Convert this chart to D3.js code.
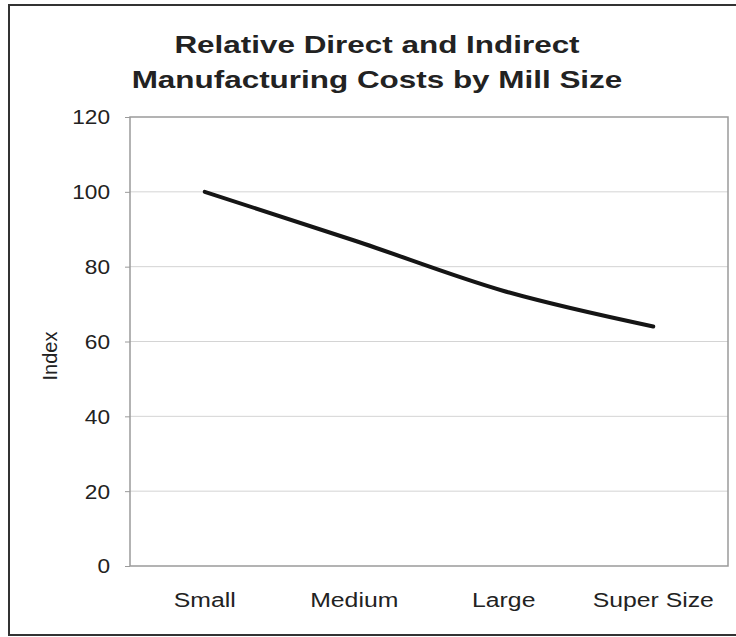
<!DOCTYPE html>
<html>
<head>
<meta charset="utf-8">
<script src="https://cdn.jsdelivr.net/npm/d3@7"></script>
<style>
  html, body { margin: 0; padding: 0; background: #fff; }
  svg { display: block; font-family: "Liberation Sans", Arial, Helvetica, sans-serif; }
</style>
</head>
<body>
<svg id="chart" width="736" height="637"></svg>
<script>
// Chart data
const titleLines = ["Relative Direct and Indirect", "Manufacturing Costs by Mill Size"];
const categories = ["Small", "Medium", "Large", "Super Size"];
const indexValues = [100, 87, 73.5, 64];
const yTicks = [0, 20, 40, 60, 80, 100, 120];
const yLabel = "Index";

const svg = d3.select("#chart");
const W = 736, H = 637;
const margin = { left: 130, right: 8, top: 117, bottom: 71 };
const plotW = W - margin.left - margin.right;
const plotH = H - margin.top - margin.bottom;
const textColor = "#222";

// Outer frame
svg.append("rect")
  .attr("x", 9).attr("y", 5)
  .attr("width", 740).attr("height", 630)
  .attr("fill", "none").attr("stroke", "#333").attr("stroke-width", 2);

// Title (wide-set bold face)
svg.append("g").selectAll("text").data(titleLines).join("text")
  .attr("transform", (d, i) => `translate(377,${53 + i * 35}) scale(1.31,1)`)
  .attr("text-anchor", "middle")
  .attr("font-size", 24).attr("font-weight", "bold").attr("fill", textColor)
  .text(d => d);

const x = d3.scaleBand().domain(categories).range([0, plotW]);
const y = d3.scaleLinear().domain([0, 120]).range([plotH, 0]);

const g = svg.append("g").attr("transform", `translate(${margin.left},${margin.top})`);

// Horizontal gridlines
g.append("g").selectAll("line").data(yTicks.filter(t => t > 0 && t < 120)).join("line")
  .attr("x1", 0).attr("x2", plotW)
  .attr("y1", d => y(d)).attr("y2", d => y(d))
  .attr("stroke", "#d4d4d4").attr("stroke-width", 1);

// Plot area border
g.append("rect")
  .attr("x", 0).attr("y", 0).attr("width", plotW).attr("height", plotH)
  .attr("fill", "none").attr("stroke", "#9a9a9a").attr("stroke-width", 1.5);

// Y axis ticks and labels
const yAxis = g.append("g")
  .call(d3.axisLeft(y).tickValues(yTicks).tickSize(5).tickFormat(""));
yAxis.select(".domain").remove();
yAxis.selectAll(".tick line").attr("stroke", "#9a9a9a");

g.append("g").selectAll("text").data(yTicks).join("text")
  .attr("transform", d => `translate(-20,${y(d)}) scale(1.08,1)`)
  .attr("dy", "0.35em")
  .attr("text-anchor", "end")
  .attr("font-size", 21).attr("fill", textColor)
  .text(d => d);

// X axis category labels
g.append("g").selectAll("text").data(categories).join("text")
  .attr("transform", d => `translate(${x(d) + x.bandwidth() / 2},${plotH + 41}) scale(1.18,1)`)
  .attr("text-anchor", "middle")
  .attr("font-size", 21).attr("fill", textColor)
  .text(d => d);

// Y axis title
svg.append("text")
  .attr("transform", `translate(57,356) rotate(-90)`)
  .attr("text-anchor", "middle")
  .attr("font-size", 20).attr("fill", textColor)
  .text(yLabel);

// Data line
const line = d3.line()
  .x((d, i) => x(categories[i]) + x.bandwidth() / 2)
  .y(d => y(d))
  .curve(d3.curveMonotoneX);

g.append("path")
  .datum(indexValues)
  .attr("d", line)
  .attr("fill", "none")
  .attr("stroke", "#151515")
  .attr("stroke-width", 4)
  .attr("stroke-linecap", "round")
  .attr("stroke-linejoin", "round");
</script>
</body>
</html>
